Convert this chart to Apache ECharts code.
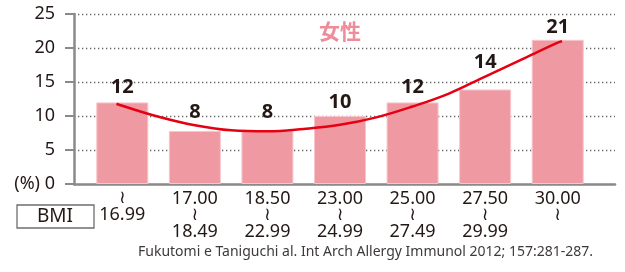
<!DOCTYPE html>
<html>
<head>
<meta charset="utf-8">
<script src="https://cdn.jsdelivr.net/npm/echarts@6/dist/echarts.min.js"></script>
<style>
html,body{margin:0;padding:0;background:#fff;}
#chart{width:625px;height:272px;}
</style>
</head>
<body>
<div id="chart"></div>
<script>
// ---- data ----
var lowerBounds = ['', '17.00', '18.50', '23.00', '25.00', '27.50', '30.00'];
var upperBounds = ['16.99', '18.49', '22.99', '24.99', '27.49', '29.99', ''];
var prevalence = [12.0, 7.8, 7.8, 10.0, 12.0, 13.9, 21.2];
// trend curve at category positions (0 = first bar centre)
var trendX = [-0.08, 0, 0.5, 1, 1.5, 2, 2.5, 3, 3.5, 4, 4.5, 5, 5.5, 6, 6.06];
var trendY = [11.8, 11.5, 9.9, 8.65, 7.9, 7.75, 8.1, 8.7, 9.8, 11.4, 13.3, 15.8, 18.3, 20.8, 21.0];
var yTicks = [0, 5, 10, 15, 20, 25];
var yUnit = '(%)';
var seriesTitle = '女性';
var axisTitle = 'BMI';
var sourceNote = 'Fukutomi e Taniguchi al. Int Arch Allergy Immunol 2012; 157:281-287.';

// ---- layout (not data) ----
var labelGap = [5, 9, 9, 4, 5, 17, 3];

var categories = lowerBounds.map(function (lo, i) { return lo + '〜' + upperBounds[i]; });
var TXT = '#231815';
var FONT = "'Noto Sans', 'Liberation Sans', sans-serif";

var chart = echarts.init(document.getElementById('chart'), null, {renderer: 'canvas'});
chart.setOption({
  animation: false,
  backgroundColor: '#ffffff',
  textStyle: {fontFamily: FONT},
  grid: [
    {left: 74, right: 10, top: 14, bottom: 88},
    {left: 86, right: 31, top: 14, bottom: 88}
  ],
  xAxis: [
    {gridIndex: 0, type: 'value', min: 0, max: 1,
     axisLine: {show: true, onZero: false, lineStyle: {color: '#8a8a8a', width: 2.5}},
     axisTick: {show: false}, axisLabel: {show: false}, splitLine: {show: false}},
    {gridIndex: 1, type: 'category', data: categories,
     axisLine: {show: false}, axisTick: {show: false},
     axisLabel: {
       interval: 0, margin: 6, color: TXT,
       formatter: function (v, idx) {
         var lo = lowerBounds[idx], hi = upperBounds[idx], parts = [];
         if (lo) parts.push('{n|' + lo + '}');
         parts.push('{w|≀}');
         if (hi) parts.push('{n|' + hi + '}');
         return parts.join('\n');
       },
       rich: {
         n: {fontSize: 18, lineHeight: 17, color: TXT, fontFamily: FONT},
         w: {fontSize: 18, lineHeight: 16, color: TXT, fontFamily: "'DejaVu Sans', sans-serif"}
       }
     }},
    {gridIndex: 1, type: 'value', min: -0.5, max: 6.5, show: false}
  ],
  yAxis: [
    {gridIndex: 0, type: 'value', min: yTicks[0], max: yTicks[yTicks.length - 1], interval: yTicks[1] - yTicks[0],
     axisLine: {show: true, onZero: false, lineStyle: {color: '#8a8a8a', width: 2.5}},
     axisTick: {show: true, length: 9, lineStyle: {color: '#8a8a8a', width: 2}},
     axisLabel: {margin: 19, fontSize: 18, color: TXT, fontFamily: FONT,
       formatter: function (v) { return v === 0 ? yUnit + ' 0' : String(v); }},
     splitLine: {show: true, lineStyle: {color: '#666', width: 1.3, type: [1.3, 2.7]}}},
    {gridIndex: 1, type: 'value', min: yTicks[0], max: yTicks[yTicks.length - 1], interval: yTicks[1] - yTicks[0], show: false}
  ],
  series: [
    {type: 'bar', xAxisIndex: 1, yAxisIndex: 1, barWidth: 52,
     data: prevalence.map(function (v, i) { return {value: v, label: {distance: labelGap[i]}}; }),
     itemStyle: {color: '#ef9aa3', borderColor: '#f7c6cb', borderWidth: 1},
     label: {show: true, position: 'top', fontSize: 20, fontWeight: 'bold', color: TXT, fontFamily: FONT,
       formatter: function (p) { return String(Math.round(p.value)); }},
     z: 2},
    {type: 'line', xAxisIndex: 2, yAxisIndex: 1,
     data: trendX.map(function (x, i) { return [x, trendY[i]]; }), smooth: 0.4,
     showSymbol: false, symbol: 'none',
     lineStyle: {color: '#e60012', width: 2.5}, z: 3}
  ],
  graphic: [
    {type: 'text', left: 341 - 22, top: 21, z: 10,
     style: {text: seriesTitle, fontSize: 21, fontWeight: 'bold', fill: '#ef8c99', fontFamily: "'Noto Sans CJK JP', sans-serif"}},
    {type: 'rect', shape: {x: 17, y: 205, width: 77, height: 23}, z: 10,
     style: {fill: '#fff', stroke: '#6e6e6e', lineWidth: 1.3}},
    {type: 'text', x: 55, y: 217, z: 11,
     style: {text: axisTitle, fontSize: 19, fill: TXT, fontFamily: FONT, textAlign: 'center', textVerticalAlign: 'middle'}},
    {type: 'text', x: 138, y: 252, z: 11,
     style: {text: sourceNote, fontSize: 14, fill: '#3e3a39', fontFamily: FONT, textAlign: 'left', textVerticalAlign: 'middle'}}
  ]
});
</script>
</body>
</html>
